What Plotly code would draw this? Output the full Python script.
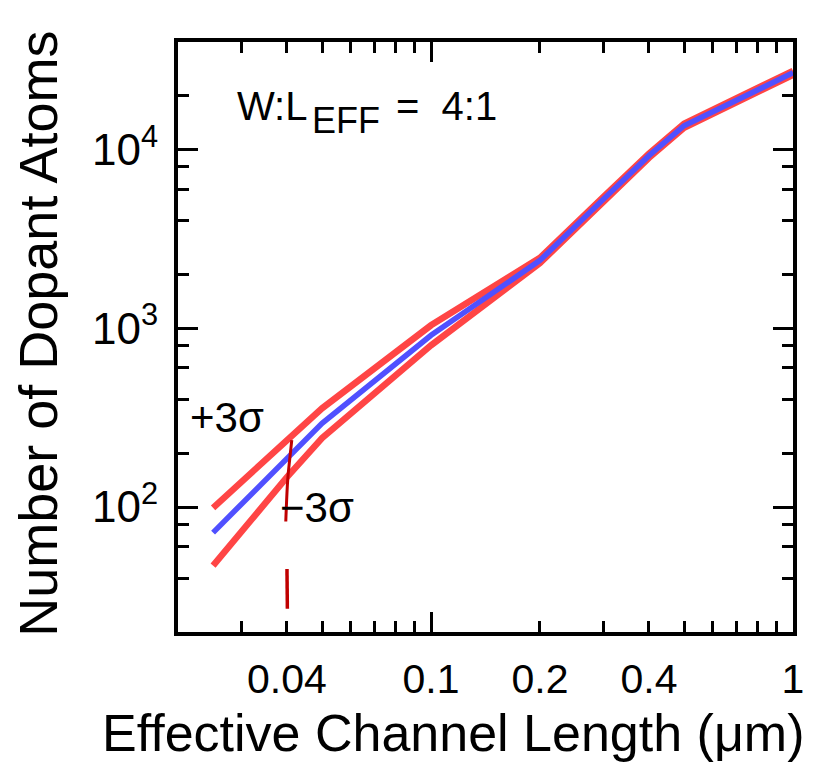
import math
import plotly.graph_objects as go

# ---- data ----
channel_length = [0.025, 0.04, 0.05, 0.1, 0.2, 0.3, 0.4, 0.5, 1.0]
dopant_mean = [72, 188, 294, 914, 2400, 5300, 9250, 13600, 26900]
dopant_plus3s = [99, 237, 357, 1040, 2480, 5450, 9500, 13950, 27600]
dopant_minus3s = [47, 147, 243, 803, 2320, 5150, 9000, 13250, 26200]

# hand-drawn red marks
mark1_x = [0.04124, 0.0407, 0.0402, 0.0397]
mark1_y = [237, 185, 143, 83]
mark2_x = [0.0400, 0.0401]
mark2_y = [45, 27.0]

x_tickvals = [0.04, 0.1, 0.2, 0.4, 1]
x_ticktext = ["0.04", "0.1", "0.2", "0.4", "1"]
x_major_long = [0.1, 1]
x_minor = [0.03, 0.05, 0.06, 0.07, 0.08, 0.09, 0.3, 0.5, 0.6, 0.7, 0.8, 0.9]
y_tickvals = [100, 1000, 10000]
y_ticktext = ["10<sup>2</sup>", "10<sup>3</sup>", "10<sup>4</sup>"]
y_minor = [20, 40, 60, 80, 200, 400, 600, 800, 2000, 4000, 6000, 8000, 20000]

RED = "#ff4545"
BLUE = "#5050ff"
FONT = "Liberation Sans"

fig = go.Figure()
fig.add_trace(go.Scatter(x=channel_length, y=dopant_plus3s, mode="lines",
                         line=dict(color=RED, width=6.5), showlegend=False))
fig.add_trace(go.Scatter(x=channel_length, y=dopant_minus3s, mode="lines",
                         line=dict(color=RED, width=6.5), showlegend=False))
fig.add_trace(go.Scatter(x=channel_length, y=dopant_mean, mode="lines",
                         line=dict(color=BLUE, width=5.5), showlegend=False))
fig.add_trace(go.Scatter(x=mark1_x, y=mark1_y, mode="lines",
                         line=dict(color="#c00000", width=3, shape="spline"), showlegend=False))
fig.add_trace(go.Scatter(x=mark2_x, y=mark2_y, mode="lines",
                         line=dict(color="#c00000", width=3.5), showlegend=False))
# invisible trace for the long-tick overlay axis
fig.add_trace(go.Scatter(x=[0.1], y=[100], xaxis="x2", mode="markers",
                         marker=dict(opacity=0), showlegend=False, hoverinfo="skip"))

xr = [math.log10(0.02), 0]
yr = [math.log10(20), math.log10(40000)]

fig.update_layout(
    width=825, height=776,
    margin=dict(l=178, r=32, t=42, b=144),
    paper_bgcolor="white", plot_bgcolor="white",
    font=dict(family=FONT, color="black"),
    xaxis=dict(type="log", range=xr, showgrid=False, zeroline=False,
               showline=True, linewidth=4, linecolor="black", mirror="ticks",
               ticks="inside", ticklen=11, tickwidth=3, tickcolor="black",
               tickvals=x_tickvals, ticktext=x_ticktext,
               tickfont=dict(size=41, family=FONT), ticklabelstandoff=8,
               minor=dict(tickvals=x_minor, ticks="inside", ticklen=11,
                          tickwidth=3, tickcolor="black", showgrid=False)),
    xaxis2=dict(type="log", range=xr, overlaying="x", anchor="y", side="bottom",
                showgrid=False, zeroline=False, showline=False, mirror="ticks",
                ticks="inside", ticklen=20, tickwidth=3, tickcolor="black",
                tickvals=x_major_long, showticklabels=False),
    yaxis=dict(type="log", range=yr, showgrid=False, zeroline=False,
               showline=True, linewidth=4, linecolor="black", mirror="ticks",
               ticks="inside", ticklen=20, tickwidth=3, tickcolor="black",
               tickvals=y_tickvals, ticktext=y_ticktext,
               tickfont=dict(size=44, family=FONT), ticklabelstandoff=7,
               minor=dict(tickvals=y_minor, ticks="inside", ticklen=11,
                          tickwidth=3, tickcolor="black", showgrid=False)),
)

# axis titles
fig.add_annotation(xref="paper", yref="paper", x=0.447, y=-0.171,
                   xanchor="center", yanchor="middle", showarrow=False,
                   text="Effective Channel Length (μm)", font=dict(size=52, family=FONT))
fig.add_annotation(xref="paper", yref="paper", x=-0.228, y=0.505,
                   xanchor="center", yanchor="middle", showarrow=False, textangle=-90,
                   text="Number of Dopant Atoms", font=dict(size=54, family=FONT))

# in-plot labels
fig.add_annotation(xref="paper", yref="paper", x=(235 - 178) / 615, y=(632 - 106) / 590,
                   xanchor="left", yanchor="middle", showarrow=False,
                   text="W:L", font=dict(size=40, family=FONT))
fig.add_annotation(xref="paper", yref="paper", x=(310 - 178) / 615, y=(632 - 120) / 590,
                   xanchor="left", yanchor="middle", showarrow=False,
                   text="EFF", font=dict(size=36, family=FONT))
fig.add_annotation(xref="paper", yref="paper", x=(394 - 178) / 615, y=(632 - 106) / 590,
                   xanchor="left", yanchor="middle", showarrow=False,
                   text="=  4:1", font=dict(size=40, family=FONT))
fig.add_annotation(xref="paper", yref="paper", x=(188 - 178) / 615, y=(632 - 418) / 590,
                   xanchor="left", yanchor="middle", showarrow=False,
                   text="+3σ", font=dict(size=42, family=FONT))
fig.add_annotation(xref="paper", yref="paper", x=(278 - 178) / 615, y=(632 - 507) / 590,
                   xanchor="left", yanchor="middle", showarrow=False,
                   text="−3σ", font=dict(size=42, family=FONT))

fig.write_html("out.html")
